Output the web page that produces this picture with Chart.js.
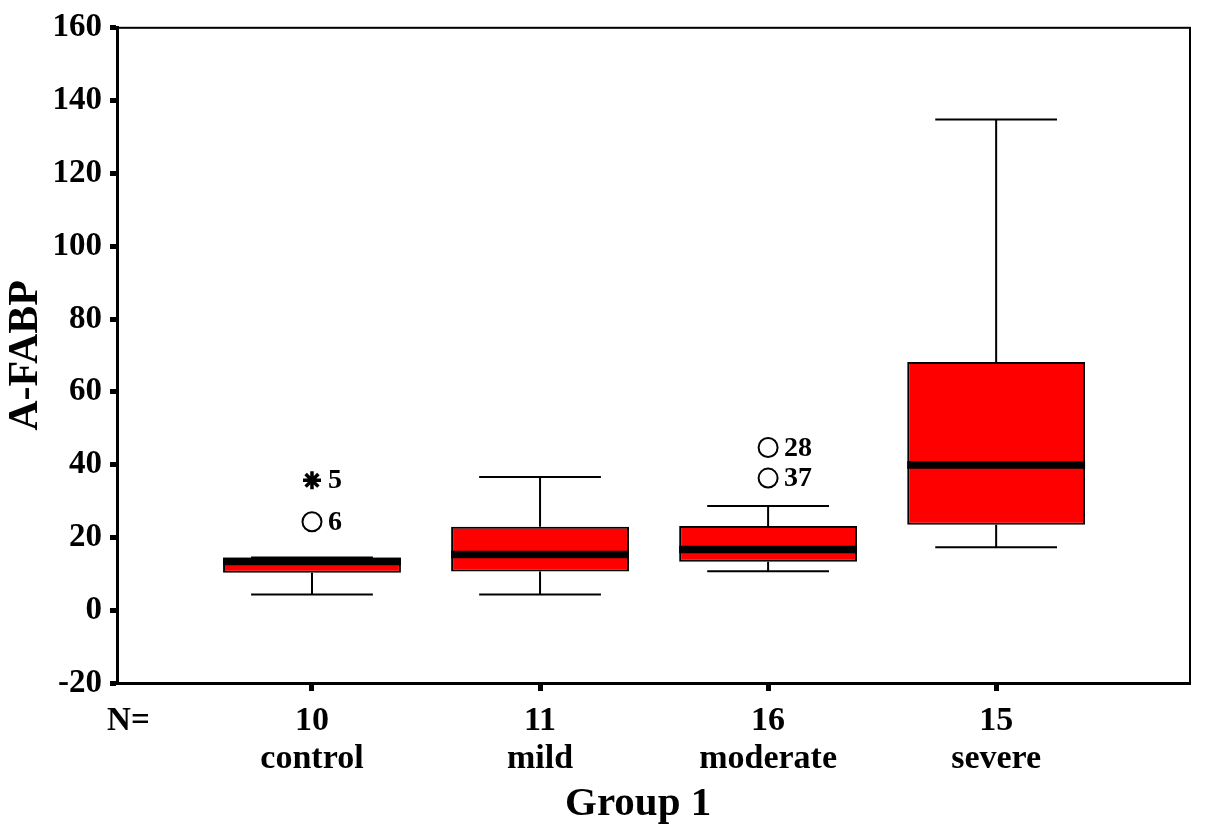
<!DOCTYPE html>
<html>
<head>
<meta charset="utf-8">
<title>A-FABP by group</title>
<script src="https://cdn.jsdelivr.net/npm/chart.js@4.4.1/dist/chart.umd.min.js"></script>
<style>
  body { margin: 0; background: #fff; }
  #wrap { width: 1205px; height: 840px; }
</style>
</head>
<body>
<div id="wrap"><canvas id="boxChart" width="1205" height="840"></canvas></div>
<script>
// box plot values
const groups = ["control", "mild", "moderate", "severe"];
const counts = [10, 11, 16, 15];
const whiskerLow = [4.3, 4.3, 10.7, 17.3];
const q1 = [10.3, 10.6, 13.3, 23.5];
const medians = [13.4, 15.3, 16.7, 39.9];
const q3 = [14.5, 22.9, 23.1, 68.2];
const whiskerHigh = [14.5, 36.6, 28.6, 134.8];

// outliers (circle) and extremes (star), with SPSS case numbers
const circleGroup = [0, 2, 2];
const circleValues = [24.3, 44.7, 36.3];
const circleCases = ["6", "28", "37"];
const starGroup = [0];
const starValues = [35.7];
const starCases = ["5"];

const yMin = -20, yMax = 160, yStep = 20;

const FONT = "'Liberation Serif', 'Times New Roman', serif";
const RED = "#fe0000";
const BOX_HALF = 0.39;
const CAP_HALF = 0.267;

// line segments separated by gaps
function segments(pairs) {
  const out = [];
  pairs.forEach(p => {
    out.push({ x: p[0], y: p[1] }, { x: p[2], y: p[3] }, { x: p[0], y: null });
  });
  return out;
}

const whiskerPairs = [];
const capPairs = [];
const medianPairs = [];
groups.forEach((g, i) => {
  whiskerPairs.push([i, q3[i], i, whiskerHigh[i]]);
  whiskerPairs.push([i, whiskerLow[i], i, q1[i]]);
  capPairs.push([i - CAP_HALF, whiskerHigh[i], i + CAP_HALF, whiskerHigh[i]]);
  capPairs.push([i - CAP_HALF, whiskerLow[i], i + CAP_HALF, whiskerLow[i]]);
  medianPairs.push([i - BOX_HALF, medians[i], i + BOX_HALF, medians[i]]);
});

const lineStyle = {
  type: "line",
  borderColor: "#000",
  pointRadius: 0,
  spanGaps: false,
  fill: false,
  tension: 0
};

const caseLabels = {
  id: "caseLabels",
  afterDatasetsDraw(chart) {
    const ctx = chart.ctx;
    ctx.save();
    ctx.fillStyle = "#000";
    ctx.font = "bold 28px " + FONT;
    ctx.textAlign = "left";
    ctx.textBaseline = "middle";
    chart.data.datasets.forEach((ds, di) => {
      if (!ds.cases) return;
      chart.getDatasetMeta(di).data.forEach((pt, k) => {
        ctx.fillText(ds.cases[k], pt.x + 16, pt.y + 1);
      });
    });
    ctx.restore();
  }
};

const frame = {
  id: "frame",
  afterDraw(chart) {
    const a = chart.chartArea;
    const ctx = chart.ctx;
    ctx.save();
    ctx.strokeStyle = "#000";
    ctx.lineWidth = 2;
    ctx.strokeRect(a.left, a.top, a.right - a.left, a.bottom - a.top);
    // "N=" in front of the group sizes
    const xs = chart.scales.x;
    ctx.fillStyle = "#000";
    ctx.font = "bold 33px " + FONT;
    ctx.textAlign = "center";
    ctx.textBaseline = "middle";
    ctx.fillText("N=", xs.getPixelForValue(-0.805), xs.top + 8 + 11 + 19);
    ctx.restore();
  }
};

new Chart(document.getElementById("boxChart"), {
  type: "bar",
  data: {
    datasets: [
      {
        type: "scatter",
        data: circleGroup.map((g, i) => ({ x: g, y: circleValues[i] })),
        cases: circleCases,
        pointStyle: "circle",
        pointRadius: 9.5,
        borderWidth: 2,
        borderColor: "#000",
        backgroundColor: "rgba(0,0,0,0)",
        order: 0
      },
      {
        type: "scatter",
        data: starGroup.map((g, i) => ({ x: g, y: starValues[i] })),
        cases: starCases,
        pointStyle: "star",
        pointRadius: 9,
        borderWidth: 3.5,
        borderColor: "#000",
        order: 0
      },
      Object.assign({}, lineStyle, { data: segments(medianPairs), borderWidth: 7.5, order: 1 }),
      {
        type: "bar",
        data: groups.map((g, i) => ({ x: i, y: [q1[i], q3[i]] })),
        backgroundColor: RED,
        borderColor: "#000",
        borderWidth: 2,
        borderSkipped: false,
        categoryPercentage: 1,
        barPercentage: 0.78,
        order: 2
      },
      Object.assign({}, lineStyle, { data: segments(whiskerPairs), borderWidth: 2, order: 3 }),
      Object.assign({}, lineStyle, { data: segments(capPairs), borderWidth: 2, order: 3 })
    ]
  },
  options: {
    responsive: false,
    devicePixelRatio: 1,
    animation: false,
    layout: { padding: { top: 23, right: 15, left: 0, bottom: 0 } },
    plugins: { legend: { display: false }, tooltip: { enabled: false } },
    scales: {
      x: {
        type: "linear",
        offset: false,
        min: -0.855,
        max: 3.85,
        afterFit(scale) { scale.height = 157; },
        afterBuildTicks(scale) { scale.ticks = groups.map((g, i) => ({ value: i })); },
        grid: { offset: false, drawOnChartArea: false, drawTicks: true, tickLength: 8, tickWidth: 5, tickColor: "#000" },
        border: { display: true, color: "#000", width: 3 },
        ticks: {
          autoSkip: false,
          maxRotation: 0,
          padding: 11,
          color: "#000",
          font: { family: FONT, size: 34, weight: "bold", lineHeight: 1.13 },
          callback: v => [String(counts[v]), groups[v]]
        },
        title: {
          display: true,
          text: "Group 1   ",
          color: "#000",
          font: { family: FONT, size: 41, weight: "bold" },
          padding: { top: 0, bottom: 11 }
        }
      },
      y: {
        min: yMin,
        max: yMax,
        afterFit(scale) { scale.width = 117; },
        grid: { drawOnChartArea: false, drawTicks: true, tickLength: 7, tickWidth: 5, tickColor: "#000" },
        border: { display: true, color: "#000", width: 3 },
        ticks: {
          stepSize: yStep,
          padding: 8,
          color: "#000",
          font: { family: FONT, size: 33, weight: "bold" }
        },
        title: {
          display: true,
          text: "A-FABP",
          color: "#000",
          font: { family: FONT, size: 42, weight: "bold" },
          padding: { top: 1, bottom: 0 }
        }
      }
    }
  },
  plugins: [caseLabels, frame]
});
</script>
</body>
</html>
